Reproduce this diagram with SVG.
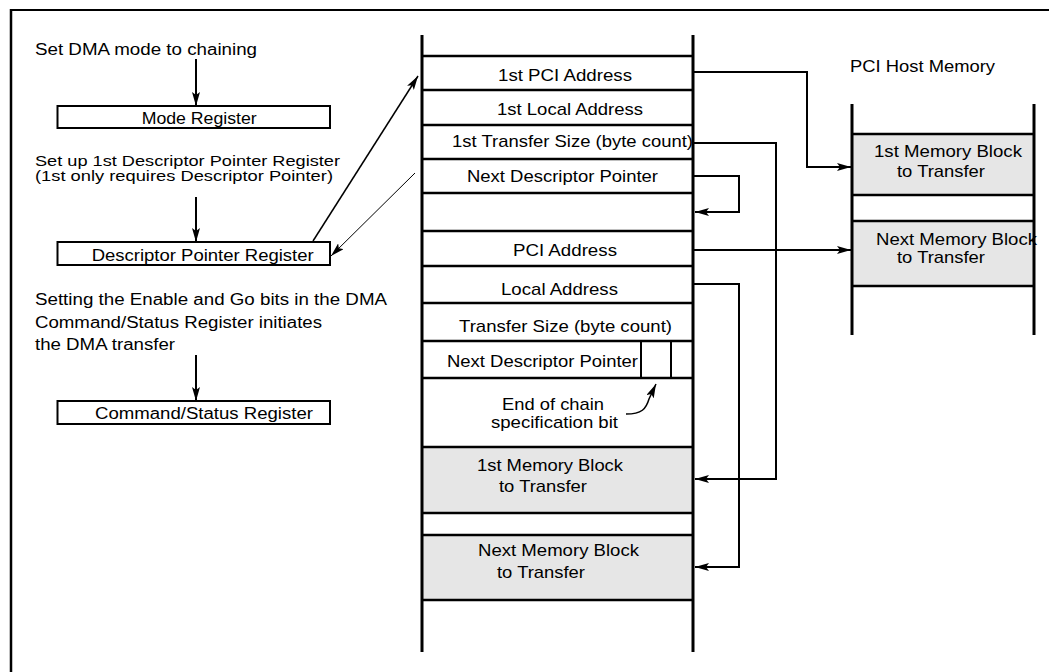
<svg xmlns="http://www.w3.org/2000/svg" width="1049" height="672" viewBox="0 0 1049 672">
<style>
text{font-family:"Liberation Sans",Arial,Helvetica,sans-serif;fill:#000;}
.l{font-size:16px;}
.s{font-size:15px;}
.c{font-size:17px;}
.box{fill:#fff;stroke:#000;stroke-width:2;}
.v{stroke:#000;stroke-width:3;fill:none;}
.h{stroke:#000;stroke-width:2.5;fill:none;}
.gray{fill:#e6e6e6;stroke:none;}
.con{stroke:#000;stroke-width:2;fill:none;}
</style>
<defs>
<marker id="ah" viewBox="0 0 14 8" refX="14" refY="4" markerWidth="14" markerHeight="8" markerUnits="userSpaceOnUse" orient="auto"><path d="M0,0 L14,4 L0,8 L3,4 z" fill="#000"/></marker>
</defs>
<rect width="1049" height="672" fill="#fff"/>
<g id="frame">
<line x1="10" y1="10" x2="1049" y2="10" stroke="#000" stroke-width="2"/>
<line x1="11" y1="9" x2="11" y2="672" stroke="#000" stroke-width="2.5"/>
</g>

<g id="step-texts">
<text class="l" x="35" y="55" textLength="222" lengthAdjust="spacingAndGlyphs">Set DMA mode to chaining</text>
<text class="s" x="35" y="166" textLength="305" lengthAdjust="spacingAndGlyphs">Set up 1st Descriptor Pointer Register</text>
<text class="s" x="35" y="181" textLength="298" lengthAdjust="spacingAndGlyphs">(1st only requires Descriptor Pointer)</text>
<text class="l" x="35" y="305" textLength="352" lengthAdjust="spacingAndGlyphs">Setting the Enable and Go bits in the DMA</text>
<text class="l" x="35" y="328" textLength="287" lengthAdjust="spacingAndGlyphs">Command/Status Register initiates</text>
<text class="l" x="35" y="350" textLength="140" lengthAdjust="spacingAndGlyphs">the DMA transfer</text>
</g>

<g id="mode-register">
<rect class="box" x="57.5" y="106" width="272.5" height="22"/>
<text class="l" x="141.7" y="124" textLength="115" lengthAdjust="spacingAndGlyphs">Mode Register</text>
</g>
<g id="descriptor-pointer-register">
<rect class="box" x="57.5" y="242" width="272.5" height="23"/>
<text class="l" x="91.7" y="261" textLength="222" lengthAdjust="spacingAndGlyphs">Descriptor Pointer Register</text>
</g>
<g id="command-status-register">
<rect class="box" x="57.5" y="401" width="272.5" height="23"/>
<text class="l" x="95" y="419" textLength="218" lengthAdjust="spacingAndGlyphs">Command/Status Register</text>
</g>

<g id="local-memory">
<rect class="gray" x="422" y="447" width="271" height="66"/>
<rect class="gray" x="422" y="535" width="271" height="65"/>
<line class="v" x1="422" y1="35" x2="422" y2="652"/>
<line class="v" x1="693" y1="35" x2="693" y2="652"/>
<path class="h" d="M422,56H693M422,90H693M422,125H693M422,159H693M422,193H693M422,231H693M422,266H693M422,303H693M422,341H693M422,378H693M422,447H693M422,513H693M422,535H693M422,600H693"/>
<path d="M641,341V378M671,341V378" stroke="#000" stroke-width="2" fill="none"/>
<text class="c" x="498" y="81" textLength="134" lengthAdjust="spacingAndGlyphs">1st PCI Address</text>
<text class="c" x="497" y="115" textLength="146" lengthAdjust="spacingAndGlyphs">1st Local Address</text>
<text class="c" x="452" y="147" textLength="241" lengthAdjust="spacingAndGlyphs">1st Transfer Size (byte count)</text>
<text class="c" x="467" y="182" textLength="191" lengthAdjust="spacingAndGlyphs">Next Descriptor Pointer</text>
<text class="c" x="513" y="256" textLength="104" lengthAdjust="spacingAndGlyphs">PCI Address</text>
<text class="c" x="501" y="295" textLength="117" lengthAdjust="spacingAndGlyphs">Local Address</text>
<text class="c" x="459" y="332" textLength="213" lengthAdjust="spacingAndGlyphs">Transfer Size (byte count)</text>
<text class="c" x="447" y="367" textLength="191" lengthAdjust="spacingAndGlyphs">Next Descriptor Pointer</text>
<text class="c" x="502" y="410" textLength="102" lengthAdjust="spacingAndGlyphs">End of chain</text>
<text class="c" x="491" y="428" textLength="127" lengthAdjust="spacingAndGlyphs">specification bit</text>
<text class="c" x="477" y="471" textLength="146" lengthAdjust="spacingAndGlyphs">1st Memory Block</text>
<text class="c" x="499" y="492" textLength="88" lengthAdjust="spacingAndGlyphs">to Transfer</text>
<text class="c" x="478" y="556" textLength="161" lengthAdjust="spacingAndGlyphs">Next Memory Block</text>
<text class="c" x="497" y="578" textLength="88" lengthAdjust="spacingAndGlyphs">to Transfer</text>
</g>

<g id="pci-host-memory">
<text class="c" x="850" y="72" textLength="145" lengthAdjust="spacingAndGlyphs">PCI Host Memory</text>
<rect class="gray" x="852" y="134" width="182" height="61"/>
<rect class="gray" x="852" y="221" width="182" height="65"/>
<line class="v" x1="852" y1="104" x2="852" y2="335"/>
<line class="v" x1="1034" y1="104" x2="1034" y2="335"/>
<path class="h" d="M852,134H1034M852,195H1034M852,221H1034M852,286H1034"/>
<text class="c" x="874" y="157" textLength="148" lengthAdjust="spacingAndGlyphs">1st Memory Block</text>
<text class="c" x="897" y="177" textLength="88" lengthAdjust="spacingAndGlyphs">to Transfer</text>
<text class="c" x="876" y="245" textLength="161" lengthAdjust="spacingAndGlyphs">Next Memory Block</text>
<text class="c" x="897" y="263" textLength="88" lengthAdjust="spacingAndGlyphs">to Transfer</text>
</g>

<g id="connectors">
<line class="con" x1="196" y1="59" x2="196" y2="106" marker-end="url(#ah)"/>
<line class="con" x1="196" y1="197" x2="196" y2="242" marker-end="url(#ah)"/>
<line class="con" x1="196" y1="355" x2="196" y2="401" marker-end="url(#ah)"/>
<line x1="313" y1="241" x2="418" y2="76" stroke="#000" stroke-width="1.5" marker-end="url(#ah)"/>
<line x1="415" y1="173" x2="331" y2="256" stroke="#000" stroke-width="1" marker-end="url(#ah)"/>
<polyline class="con" points="694,72 807,72 807,167 851,167" marker-end="url(#ah)"/>
<polyline class="con" points="694,143 776,143 776,479 695,479" marker-end="url(#ah)"/>
<polyline class="con" points="694,176 739,176 739,212 695,212" marker-end="url(#ah)"/>
<line class="con" x1="694" y1="250" x2="851" y2="250" marker-end="url(#ah)"/>
<polyline class="con" points="694,284 739,284 739,567 695,567" marker-end="url(#ah)"/>
<path d="M626,414 C642,414 646,409 649,399 L656,384" stroke="#000" stroke-width="1.5" fill="none" marker-end="url(#ah)"/>
</g>
</svg>
